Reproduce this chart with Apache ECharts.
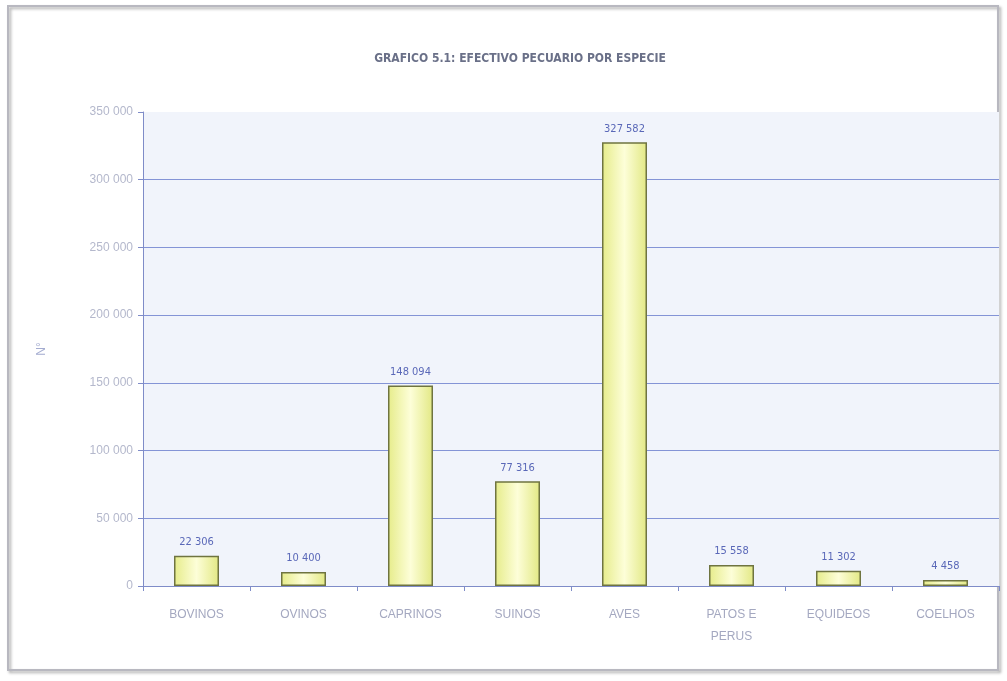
<!DOCTYPE html>
<html><head><meta charset="utf-8">
<script src="https://cdn.jsdelivr.net/npm/echarts@6/dist/echarts.min.js"></script>
<style>html,body{margin:0;padding:0;background:#fff}#c{width:1007px;height:681px}</style>
</head><body><div id="c"></div>
<script>
const categories = ['BOVINOS','OVINOS','CAPRINOS','SUINOS','AVES','PATOS E\nPERUS','EQUIDEOS','COELHOS'];
const values = [22306, 10400, 148094, 77316, 327582, 15558, 11302, 4458];
const yTicks = [0, 50000, 100000, 150000, 200000, 250000, 300000, 350000];
const titleText = 'GRAFICO 5.1: EFECTIVO PECUARIO POR ESPECIE';
const yName = 'N°';

function fmt(v){return String(v).replace(/\B(?=(\d{3})+(?!\d))/g,' ');}

const chart = echarts.init(document.getElementById('c'));
chart.setOption({
  backgroundColor:'#fff',
  graphic:[{type:'rect',shape:{x:8,y:6,width:990,height:664},style:{fill:'none',stroke:'#b8b8c0',lineWidth:2,shadowColor:'rgba(0,0,0,0.35)',shadowBlur:3,shadowOffsetX:2,shadowOffsetY:2},z:-10}],
  title:{text:titleText,left:515,top:48,textAlign:'center',textStyle:{fontFamily:'DejaVu Sans Condensed',fontSize:12,fontWeight:'bold',color:'#6a7088'}},
  grid:{left:143,right:8,top:112,bottom:95,backgroundColor:'#f1f4fb',show:true,borderWidth:0},
  xAxis:{type:'category',data:categories,
    axisLine:{lineStyle:{color:'#7f8cc8'}},
    axisTick:{show:true,lineStyle:{color:'#7f8cc8'}},
    axisLabel:{color:'#a4a8c0',fontFamily:'Liberation Sans',fontSize:12,margin:18,lineHeight:22,interval:0}},
  yAxis:{type:'value',min:0,max:350000,interval:50000,name:yName,nameLocation:'middle',nameGap:95,nameRotate:90,
    nameTextStyle:{color:'#a4acd0',fontSize:12,fontFamily:'Liberation Sans'},
    axisLine:{show:true,lineStyle:{color:'#7f8cc8'}},
    axisTick:{show:true,lineStyle:{color:'#7f8cc8'}},
    splitLine:{lineStyle:{color:['#8494d6','#8494d6','#8494d6','#8494d6','#8494d6','#8494d6','#8494d6','rgba(0,0,0,0)'],width:1.2}},
    axisLabel:{color:'#b4b8cc',fontFamily:'Liberation Sans',fontSize:12,margin:10,formatter:function(v){return yTicks.indexOf(v)>=0?fmt(v):'';}}},
  series:[{type:'bar',data:values,barWidth:45,
    itemStyle:{color:new echarts.graphic.LinearGradient(0,0,1,0,[{offset:0,color:'#e6ec8a'},{offset:0.5,color:'#fdfed8'},{offset:1,color:'#e2e884'}]),borderColor:'#6f7440',borderWidth:1.5},
    label:{show:true,position:'top',distance:8,color:'#5a68b8',fontFamily:'DejaVu Sans Condensed',fontSize:11,formatter:function(p){return fmt(p.value);}}}]
});
</script></body></html>
